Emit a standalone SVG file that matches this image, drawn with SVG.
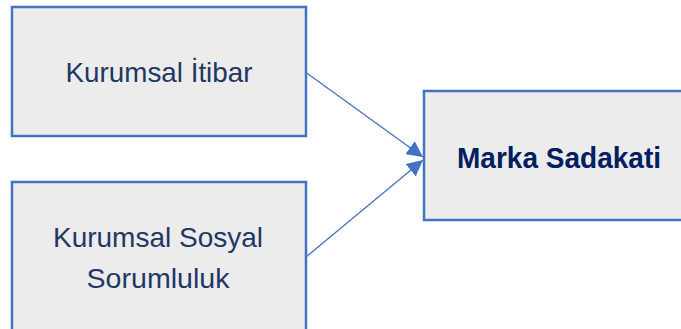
<svg xmlns="http://www.w3.org/2000/svg" width="681" height="329" viewBox="0 0 681 329">
<style>
.box{fill:#ECECEC;stroke:#4472C4;stroke-width:2.5}
.t{font-family:"Liberation Sans",Arial,sans-serif;font-size:28px;fill:#1F3864;text-anchor:middle}
.b{font-weight:bold;fill:#002060;font-size:29px}
.c{stroke:#4472C4;stroke-width:1.3;fill:none}
</style>
<defs>
<marker id="ah" viewBox="0 0 10 10" refX="10" refY="5" markerWidth="16" markerHeight="16" markerUnits="userSpaceOnUse" orient="auto">
<path d="M0,0 L10,5 L0,10 z" fill="#4472C4"/>
</marker>
</defs>
<g id="n1"><rect class="box" x="12" y="7" width="294" height="129"/>
<text class="t" x="159" y="82" textLength="187" lengthAdjust="spacingAndGlyphs">Kurumsal İtibar</text></g>
<g id="n2"><rect class="box" x="12" y="182" width="294" height="160"/>
<text class="t" x="158" y="247" textLength="210" lengthAdjust="spacingAndGlyphs">Kurumsal Sosyal</text>
<text class="t" x="158" y="288" textLength="143" lengthAdjust="spacingAndGlyphs">Sorumluluk</text></g>
<g id="n3"><rect class="box" x="424" y="91" width="270" height="129"/>
<text class="t b" x="559" y="168" textLength="204" lengthAdjust="spacingAndGlyphs">Marka Sadakati</text></g>
<g id="connectors">
<line class="c" x1="306" y1="72.5" x2="423" y2="157" marker-end="url(#ah)"/>
<line class="c" x1="306" y1="257" x2="423" y2="160" marker-end="url(#ah)"/>
</g>
</svg>
